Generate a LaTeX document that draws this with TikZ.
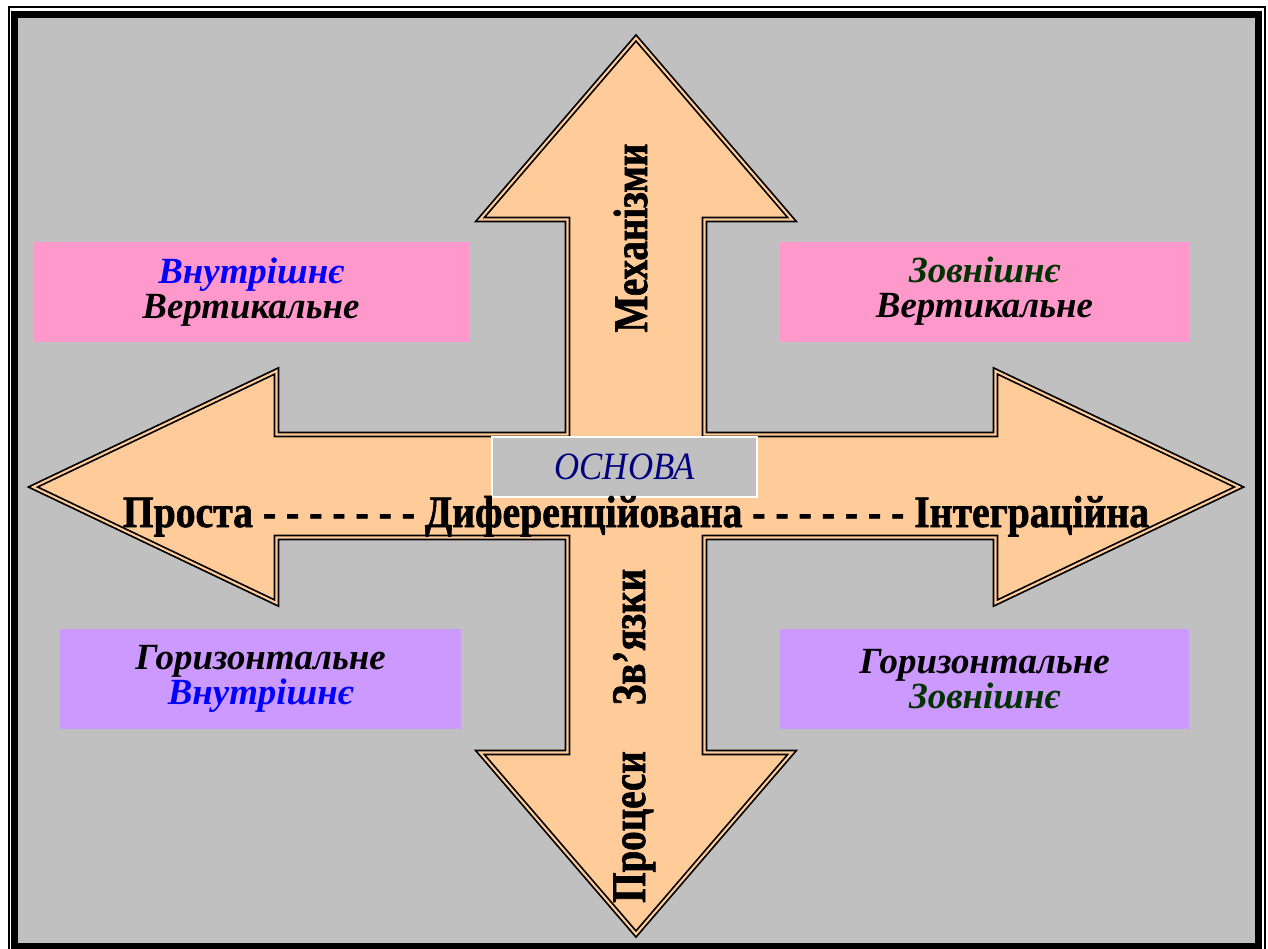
\documentclass[tikz,border=0pt]{standalone}
\usepackage{fontspec}
\setmainfont{Liberation Serif}
\usepackage{graphicx}
\usetikzlibrary{calc}

\definecolor{peach}{HTML}{FFCC99}
\definecolor{slide}{HTML}{C0C0C0}
\definecolor{pinkbox}{HTML}{FF99CC}
\definecolor{lilacbox}{HTML}{CC99FF}
\definecolor{darkgreen}{HTML}{003300}
\definecolor{navyblue}{HTML}{000080}
\definecolor{pureblue}{HTML}{0000FF}

\tikzset{
  arrowline/.style={fill=peach, draw=black, line width=1pt, double=peach, double distance=1.2pt},
  basebox/.style={fill=slide, draw=white, line width=1pt, minimum width=5.3cm, minimum height=1.2cm,
    text=navyblue, font=\itshape\fontsize{22}{24}\selectfont},
  scaletext/.style={inner sep=0pt, font=\bfseries\fontsize{25.5}{28}\selectfont\addfontfeature{FakeBold=1.5}},
  axistext/.style={inner sep=0pt, font=\bfseries\fontsize{27.4}{30}\selectfont\addfontfeature{FakeBold=1.5}},
  panel/.style={minimum height=2cm, align=center, font=\bfseries\itshape\fontsize{21}{19.8}\selectfont},
  pinkpanel/.style={panel, fill=pinkbox},
  lilacpanel/.style={panel, fill=lilacbox}
}

\begin{document}
\begin{tikzpicture}[x=0.02cm, y=-0.02cm]
        \useasboundingbox (0,0) rectangle (1268,948);
        \fill[white] (0,0) rectangle (1268,948);
        \draw[line width=0.6pt] (9,7) rectangle (1265,953);
        \filldraw[fill=slide, draw=black, line width=3.8pt] (14.5,14.5) rectangle (1258.5,946);

        \filldraw[arrowline] (636,38) -- (480,219.5) -- (567.5,219.5) -- (567.5,434.5) -- (276.5,434.5)
            -- (276.5,371) -- (33,487) -- (276.5,603) -- (276.5,537.5) -- (567.5,537.5) -- (567.5,752.5)
            -- (480,752.5) -- (636,934) -- (792,752.5) -- (704.5,752.5) -- (704.5,537.5) -- (995.5,537.5)
            -- (995.5,603) -- (1239,487) -- (995.5,371) -- (995.5,434.5) -- (704.5,434.5) -- (704.5,219.5)
            -- (792,219.5) -- cycle;

        \node[basebox] (basis) at (624.5,467) {\scalebox{0.9}[1]{ОСНОВА}};

        \node[scaletext, anchor=base] (scale) at (636,527)
            {\scalebox{0.886}[1]{Проста - - - - - - - Диференційована - - - - - - - Інтеграційна}};

        \node[axistext, rotate=90, anchor=base] (mechanisms) at (647,238) {\scalebox{0.81}[1]{Механізми}};
        \node[axistext, rotate=90, anchor=base] (links) at (645,637) {\scalebox{0.81}[1]{Зв'язки}};
        \node[axistext, rotate=90, anchor=base] (processes) at (645,827) {\scalebox{0.81}[1]{Процеси}};

        \node[pinkpanel, minimum width=8.72cm] (innervert) at (251,292)
            {\textcolor{pureblue}{Внутрішнє}\\Вертикальне};
        \node[pinkpanel, minimum width=8.18cm] (outervert) at (984.5,291.5)
            {\textcolor{darkgreen}{Зовнішнє}\\Вертикальне};
        \node[lilacpanel, minimum width=8.02cm] (innerhoriz) at (260.5,678.5)
            {Горизонтальне\\\textcolor{pureblue}{Внутрішнє}};
        \node[lilacpanel, minimum width=8.18cm] (outerhoriz) at (984.5,679)
            {Горизонтальне\\\textcolor{darkgreen}{Зовнішнє}};
\end{tikzpicture}
\end{document}
